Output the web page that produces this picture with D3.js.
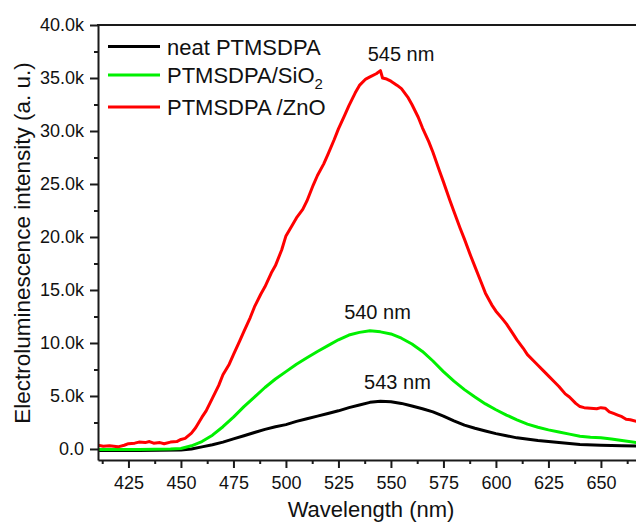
<!DOCTYPE html>
<html>
<head>
<meta charset="utf-8">
<title>Electroluminescence spectra</title>
<script src="https://cdnjs.cloudflare.com/ajax/libs/d3/7.8.5/d3.min.js"></script>
<style>
    body { margin: 0; background: #fff; }
    svg { display: block; font-family: "Liberation Sans", Arial, sans-serif; }
</style>
</head>
<body>
<div id="chart"></div>
<script>
// wavelength (nm) and intensity (k counts)
const neatWl = [410.5, 430, 450, 455, 460, 465, 470, 475, 480, 485, 490, 495, 500, 505, 510, 515, 520, 525, 530, 535, 540, 545, 550, 555, 560, 565, 570, 575, 580, 585, 590, 595, 600, 605, 610, 620, 630, 640, 650, 660, 667];
const neatVal = [-0.15, -0.15, -0.1, 0.0, 0.2, 0.4, 0.65, 0.95, 1.25, 1.55, 1.85, 2.1, 2.3, 2.6, 2.85, 3.1, 3.35, 3.6, 3.9, 4.15, 4.4, 4.5, 4.45, 4.3, 4.05, 3.8, 3.5, 3.1, 2.65, 2.25, 1.95, 1.7, 1.45, 1.25, 1.05, 0.8, 0.6, 0.42, 0.35, 0.3, 0.28];

const sio2Wl = [410.5, 430, 445, 450, 455, 460, 465, 470, 475, 480, 485, 490, 495, 500, 505, 510, 515, 520, 525, 530, 535, 540, 545, 550, 555, 560, 565, 570, 575, 580, 585, 590, 595, 600, 605, 610, 615, 620, 625, 630, 635, 640, 645, 650, 655, 660, 667];
const sio2Val = [-0.05, -0.05, 0.0, 0.05, 0.3, 0.7, 1.3, 2.1, 3.0, 4.0, 4.9, 5.8, 6.6, 7.3, 8.0, 8.6, 9.2, 9.75, 10.3, 10.75, 11.0, 11.15, 11.05, 10.85, 10.45, 9.9, 9.2, 8.3, 7.3, 6.4, 5.6, 4.9, 4.25, 3.7, 3.2, 2.75, 2.35, 2.05, 1.8, 1.6, 1.4, 1.2, 1.1, 1.05, 0.95, 0.8, 0.6];

const znoWl = [410.5, 413, 416, 420, 423, 425, 428, 430, 433, 435, 437, 440, 442, 445, 448, 450, 452, 455, 457, 460, 462, 465, 468, 470, 473, 475, 478, 480, 483, 485, 488, 490, 493, 495, 498, 500, 503, 505, 508, 510, 513, 515, 518, 520, 523, 525, 528, 530, 533, 535, 538, 540, 543, 545, 546, 548, 550, 553, 555, 558, 560, 563, 565, 568, 570, 573, 575, 578, 580, 583, 585, 588, 590, 593, 595, 598, 600, 603, 605, 608, 610, 613, 615, 618, 620, 623, 625, 628, 630, 633, 635, 638, 640, 642, 645, 648, 650, 652, 654, 656, 658, 660, 662, 664, 667];
const znoVal = [0.35, 0.25, 0.3, 0.2, 0.35, 0.5, 0.55, 0.65, 0.6, 0.7, 0.55, 0.6, 0.5, 0.65, 0.7, 0.9, 1.0, 1.5, 2.0, 3.0, 3.6, 4.8, 6.0, 7.0, 8.0, 8.9, 10.2, 11.1, 12.4, 13.4, 14.6, 15.3, 16.6, 17.3, 18.8, 20.1, 21.1, 21.8, 22.6, 23.4, 24.9, 25.8, 26.9, 27.8, 29.2, 30.2, 31.5, 32.4, 33.6, 34.3, 34.9, 35.1, 35.4, 35.7, 35.0, 34.9, 34.7, 34.3, 34.0, 33.2, 32.5, 31.3, 30.3, 29.0, 28.0, 26.3, 25.2, 23.5, 22.4, 20.8, 19.8, 18.2, 17.2, 15.7, 14.7, 13.6, 13.0, 12.3, 11.8, 10.9, 10.3, 9.5, 8.9, 8.3, 7.9, 7.3, 6.9, 6.3, 5.9, 5.2, 4.9, 4.3, 4.0, 3.9, 3.85, 3.8, 3.9, 3.85, 3.5, 3.35, 3.2, 3.05, 2.8, 2.75, 2.6];

const seriesNames = ["neat PTMSDPA", "PTMSDPA/SiO2", "PTMSDPA /ZnO"];
const seriesColors = ["#000000", "#00f000", "#ff0000"];

const xTicks = [425, 450, 475, 500, 525, 550, 575, 600, 625, 650];
const yTicks = [0, 5000, 10000, 15000, 20000, 25000, 30000, 35000, 40000];

// peak labels: text, wavelength, intensity where the label sits
const peakLabels = ["545 nm", "540 nm", "543 nm"];
const peakWl = [554.8, 543.6, 553.1];
const peakVal = [36600, 12250, 5650];

const W = 636, H = 522;
const margin = {top: 25, right: 0, bottom: 62, left: 98};

const svg = d3.select("#chart").append("svg")
    .attr("width", W)
    .attr("height", H);

const x = d3.scaleLinear()
    .domain([410.5, 666.7])
    .range([margin.left, W - margin.right]);

const y = d3.scaleLinear()
    .domain([-1040, 40000])
    .range([H - margin.bottom, margin.top]);

svg.append("defs").append("clipPath")
    .attr("id", "plot-clip")
    .append("rect")
    .attr("x", margin.left)
    .attr("y", margin.top)
    .attr("width", W - margin.left)
    .attr("height", H - margin.bottom - margin.top);

// curves
const toPoints = (wl, vals) => wl.map((w, i) => [w, vals[i] * 1000]);
const series = [toPoints(neatWl, neatVal), toPoints(sio2Wl, sio2Val), toPoints(znoWl, znoVal)];

const line = d3.line()
    .x(d => x(d[0]))
    .y(d => y(d[1]));

svg.append("g")
    .attr("clip-path", "url(#plot-clip)")
    .selectAll("path")
    .data(series)
    .enter()
    .append("path")
    .attr("d", line)
    .attr("fill", "none")
    .attr("stroke", (d, i) => seriesColors[i])
    .attr("stroke-width", 3)
    .attr("stroke-linejoin", "round");

// axes
const yFmt = v => v === 0 ? "0.0" : (v / 1000).toFixed(1) + "k";

svg.append("g")
    .attr("transform", `translate(${margin.left},0)`)
    .call(d3.axisLeft(y).tickValues(yTicks).tickFormat(yFmt).tickSize(8).tickPadding(6).tickSizeOuter(0));

svg.append("g")
    .attr("transform", `translate(${margin.left},0)`)
    .call(d3.axisLeft(y).tickValues(d3.range(2500, 40000, 5000)).tickFormat("").tickSize(4).tickSizeOuter(0))
    .select(".domain").remove();

svg.append("g")
    .attr("transform", `translate(0,${H - margin.bottom})`)
    .call(d3.axisBottom(x).tickValues(xTicks).tickSize(8).tickPadding(8).tickSizeOuter(0));

svg.append("g")
    .attr("transform", `translate(0,${H - margin.bottom})`)
    .call(d3.axisBottom(x).tickValues(d3.range(412.5, 666, 25)).tickFormat("").tickSize(4).tickSizeOuter(0))
    .select(".domain").remove();

svg.selectAll(".tick text")
    .attr("font-size", 18)
    .attr("font-family", "Liberation Sans, Arial, sans-serif")
    .attr("fill", "#111");
svg.selectAll(".domain, .tick line")
    .attr("stroke", "#1a1a1a")
    .attr("stroke-width", 2);

// top frame line
svg.append("line")
    .attr("x1", margin.left - 1)
    .attr("x2", W)
    .attr("y1", margin.top)
    .attr("y2", margin.top)
    .attr("stroke", "#1a1a1a")
    .attr("stroke-width", 2);

// axis titles
svg.append("text")
    .attr("x", 371)
    .attr("y", 517)
    .attr("text-anchor", "middle")
    .attr("font-size", 22)
    .attr("fill", "#111")
    .text("Wavelength (nm)");

svg.append("text")
    .attr("transform", "translate(30,243) rotate(-90)")
    .attr("text-anchor", "middle")
    .attr("font-size", 22.5)
    .attr("fill", "#111")
    .text("Electroluminescence intensity (a. u.)");

// legend
const legendY = [46.5, 75, 107];
const legend = svg.append("g");
seriesNames.forEach((name, i) => {
    legend.append("line")
        .attr("x1", 108)
        .attr("x2", 160)
        .attr("y1", legendY[i])
        .attr("y2", legendY[i])
        .attr("stroke", seriesColors[i])
        .attr("stroke-width", 3);
    const t = legend.append("text")
        .attr("x", 167)
        .attr("y", legendY[i] + 8)
        .attr("font-size", 22)
        .attr("fill", "#111");
    if (name.endsWith("2")) {
        t.append("tspan").text(name.slice(0, -1));
        t.append("tspan").attr("dy", 6).attr("font-size", 15).text("2");
    } else {
        t.text(name);
    }
});

// peak annotations
svg.selectAll(".peak")
    .data(peakLabels)
    .enter()
    .append("text")
    .attr("class", "peak")
    .attr("x", (d, i) => x(peakWl[i]))
    .attr("y", (d, i) => y(peakVal[i]))
    .attr("text-anchor", "middle")
    .attr("font-size", 20)
    .attr("fill", "#111")
    .text(d => d);
</script>
</body>
</html>
